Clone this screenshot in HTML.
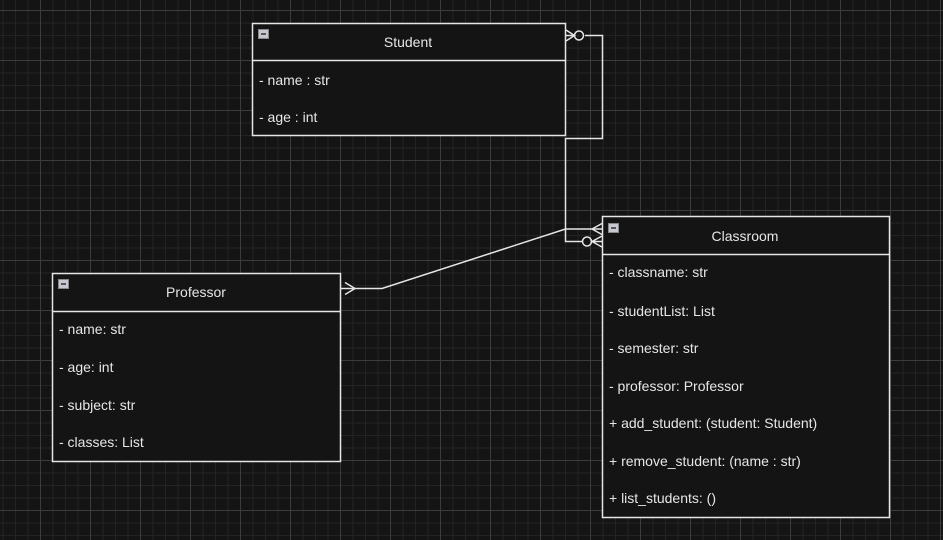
<!DOCTYPE html>
<html><head><style>
html,body{margin:0;padding:0;}
body{width:943px;height:540px;background:#141414;overflow:hidden;position:relative;font-family:"Liberation Sans",sans-serif;}
svg{position:absolute;left:0;top:0;}
</style></head><body>
<svg width="943" height="540" xmlns="http://www.w3.org/2000/svg">
<defs>
<pattern id="minor" width="12.5" height="12.5" patternUnits="userSpaceOnUse" x="2.5" y="10">
<path d="M0 0.5H12.5M0.5 0V12.5" stroke="#232323" stroke-width="1" fill="none"/>
</pattern>
<pattern id="major" width="50" height="50" patternUnits="userSpaceOnUse" x="40" y="10">
<path d="M0 0.5H50M0.5 0V50" stroke="#3c3c3c" stroke-width="1" fill="none"/>
</pattern>
</defs>
<rect width="943" height="540" fill="url(#minor)"/>
<rect width="943" height="540" fill="url(#major)"/>
<g fill="#141414" stroke="#e6e6e6" stroke-width="1.5">
<rect x="252.5" y="23.5" width="313" height="112"/>
<line x1="252.5" y1="60.5" x2="565.5" y2="60.5"/>
<rect x="602.5" y="216.5" width="287" height="301"/>
<line x1="602.5" y1="254.5" x2="889.5" y2="254.5"/>
<rect x="52.5" y="273.5" width="288" height="188"/>
<line x1="52.5" y1="311.5" x2="340.5" y2="311.5"/>
</g>
<g fill="#c8c8d0" stroke="#888" stroke-width="1">
<rect x="258.5" y="29.5" width="10" height="9"/>
<rect x="608.5" y="223.5" width="10" height="9"/>
<rect x="58.5" y="279.5" width="10" height="9"/>
</g>
<g stroke="#333" stroke-width="1.5">
<line x1="261" y1="34" x2="266" y2="34"/><line x1="611" y1="228" x2="616" y2="228"/><line x1="61" y1="284" x2="66" y2="284"/>
</g>
<g fill="none" stroke="#e6e6e6" stroke-width="1.5">
<polyline points="585,35.5 602.5,35.5 602.5,138.5 565.5,138.5 565.5,241.5 582,241.5"/>
<circle cx="579" cy="35.5" r="4.5"/>
<path d="M566 30L574.5 35.5L566 41M566 35.5H574.5"/>
<circle cx="587" cy="241.5" r="4.5"/>
<path d="M602 236L592 241.5L602 247M602 241.5H592"/>
<polyline points="340.5,288.5 382,288.5 565.5,229 602,229"/>
<path d="M602 223.5L592 229L602 234.5"/>
<path d="M345 282.5L355 288.5L345 294.5"/>
</g>
<g fill="#e6e6e6" font-family="Liberation Sans, sans-serif" font-size="14">
<text x="408" y="47" text-anchor="middle">Student</text>
<text x="259" y="85">- name : str</text>
<text x="259" y="122">- age : int</text>
<text x="745" y="241" text-anchor="middle">Classroom</text>
<text x="609" y="277">- classname: str</text>
<text x="609" y="316">- studentList: List</text>
<text x="609" y="353">- semester: str</text>
<text x="609" y="391">- professor: Professor</text>
<text x="609" y="428">+ add_student: (student: Student)</text>
<text x="609" y="466">+ remove_student: (name : str)</text>
<text x="609" y="503">+ list_students: ()</text>
<text x="196" y="297" text-anchor="middle">Professor</text>
<text x="59" y="334">- name: str</text>
<text x="59" y="372">- age: int</text>
<text x="59" y="410">- subject: str</text>
<text x="59" y="447">- classes: List</text>
</g>
</svg>
</body></html>
